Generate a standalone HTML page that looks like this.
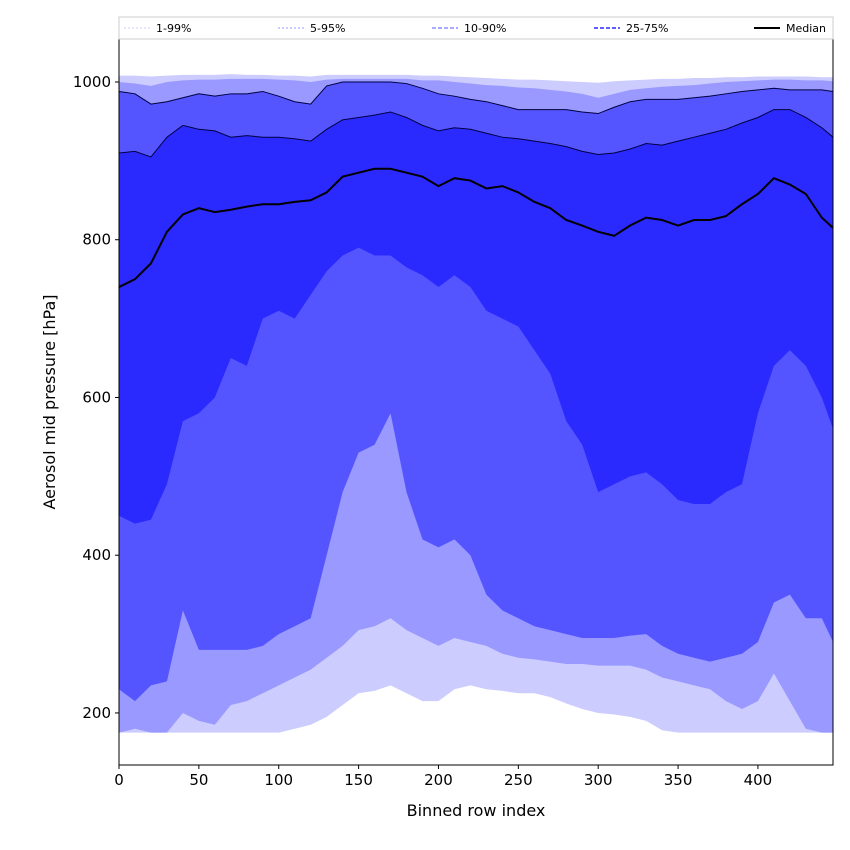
<!DOCTYPE html>
<html><head><meta charset="utf-8">
<style>
body{margin:0;background:#fff;}
svg{display:block;font-family:"DejaVu Sans","Liberation Sans",sans-serif;}
</style></head>
<body>
<svg id="chart" width="850" height="850"></svg>
<script>
const rows = [0,10,20,30,40,50,60,70,80,90,100,110,120,130,140,150,160,170,180,190,200,210,220,230,240,250,260,270,280,290,300,310,320,330,340,350,360,370,380,390,400,410,420,430,440,447];
const p1 = [175,175,175,175,175,175,175,175,175,175,175,180,185,195,210,225,228,235,225,215,215,230,235,230,228,225,225,220,212,205,200,198,195,190,178,175,175,175,175,175,175,175,175,175,175,175];
const p5 = [175,180,175,175,200,190,185,210,215,225,235,245,255,270,285,305,310,320,305,295,285,295,290,285,275,270,268,265,262,262,260,260,260,255,245,240,235,230,215,205,215,250,215,180,175,175];
const p10 = [230,215,235,240,330,280,280,280,280,285,300,310,320,400,480,530,540,580,480,420,410,420,400,350,330,320,310,305,300,295,295,295,298,300,285,275,270,265,270,275,290,340,350,320,320,290];
const p25 = [450,440,445,490,570,580,600,650,640,700,710,700,730,760,780,790,780,780,765,755,740,755,740,710,700,690,660,630,570,540,480,490,500,505,490,470,465,465,480,490,580,640,660,640,600,560];
const p50 = [740,750,770,810,832,840,835,838,842,845,845,848,850,860,880,885,890,890,885,880,868,878,875,865,868,860,848,840,825,818,810,805,818,828,825,818,825,825,830,845,858,878,870,858,828,815];
const p75 = [910,912,905,930,945,940,938,930,932,930,930,928,925,940,952,955,958,962,955,945,938,942,940,935,930,928,925,922,918,912,908,910,915,922,920,925,930,935,940,948,955,965,965,955,942,930];
const p90 = [988,985,972,975,980,985,982,985,985,988,982,975,972,995,1000,1000,1000,1000,998,992,985,982,978,975,970,965,965,965,965,962,960,968,975,978,978,978,980,982,985,988,990,992,990,990,990,988];
const p95 = [1000,998,995,1000,1002,1003,1003,1004,1004,1004,1003,1002,1000,1003,1004,1004,1004,1004,1004,1002,1002,1000,998,996,995,993,992,990,988,985,980,985,990,992,994,995,996,998,1000,1001,1002,1003,1003,1002,1002,1001];
const p99 = [1008,1008,1007,1008,1009,1009,1009,1010,1009,1009,1008,1008,1007,1009,1009,1009,1009,1009,1009,1008,1008,1007,1006,1005,1004,1003,1003,1002,1001,1000,999,1001,1002,1003,1004,1004,1005,1005,1006,1006,1007,1007,1007,1007,1006,1006];
const xTicks = [0,50,100,150,200,250,300,350,400];
const yTicks = [200,400,600,800,1000];

const L=119,R=833,T=39,B=765;
const xMin=0,xMax=447,yMin=134,yMax=1054.5;
const X=v=>L+(v-xMin)/(xMax-xMin)*(R-L);
const Y=v=>B-(v-yMin)/(yMax-yMin)*(B-T);
const NS="http://www.w3.org/2000/svg";
const svg=document.getElementById('chart');
function mk(tag,attrs,parent){const e=document.createElementNS(NS,tag);for(const k in attrs)e.setAttribute(k,attrs[k]);(parent||svg).appendChild(e);return e;}

function band(lo,hi,color,name){
  let d='M'+rows.map((r,i)=>X(r)+','+Y(hi[i])).join('L');
  for(let i=rows.length-1;i>=0;i--) d+='L'+X(rows[i])+','+Y(lo[i]);
  const p=mk('path',{d:d+'Z',fill:color,stroke:'none'});
  
  
}
function line(arr,color,w,dash,name){
  const p=mk('path',{d:'M'+rows.map((r,i)=>X(r)+','+Y(arr[i])).join('L'),fill:'none',stroke:color,'stroke-width':w});
  if(dash)p.setAttribute('stroke-dasharray',dash);
  
  
}
band(p1,p99,'#ccccff','band-1-99');
band(p5,p95,'#9999ff','band-5-95');
band(p10,p90,'#5555ff','band-10-90');
band(p25,p75,'#2a2aff','band-25-75');
line(p90,'#000040',1,null,'line-p90');
line(p75,'#000040',1,null,'line-p75');
line(p50,'#000000',2,null,'median-line');

const fr=mk('rect',{x:L,y:T,width:R-L,height:B-T,fill:'none',stroke:'#000','stroke-width':1});


xTicks.forEach(t=>{
  mk('line',{x1:X(t),x2:X(t),y1:B,y2:B+4,stroke:'#000'});
  const tx=mk('text',{x:X(t),y:B+20,'text-anchor':'middle','font-size':15});
  tx.textContent=t;
  
  
});
yTicks.forEach(t=>{
  mk('line',{x1:L-4,x2:L,y1:Y(t),y2:Y(t),stroke:'#000'});
  const tx=mk('text',{x:L-8,y:Y(t)+5,'text-anchor':'end','font-size':15});
  tx.textContent=t;
  
  
});
const xt=mk('text',{x:(L+R)/2,y:816,'text-anchor':'middle','font-size':16});
xt.textContent='Binned row index';


const yt=mk('text',{x:0,y:0,'text-anchor':'middle','font-size':16,transform:'translate(55,402) rotate(-90)'});
yt.textContent='Aerosol mid pressure [hPa]';



const lg=mk('g',{});


mk('rect',{x:119,y:17,width:714,height:22,fill:'#fff',stroke:'#ccc'},lg);
const leg=[['1-99%','#ccccff',1,'2,2',124],['5-95%','#9999ff',1,'2,2',278],['10-90%','#5555ff',1,'4,2',432],['25-75%','#2a2aff',1.5,'4,2',594],['Median','#000',2,null,754]];
leg.forEach(e=>{
  const ln=mk('line',{x1:e[4],x2:e[4]+26,y1:28,y2:28,stroke:e[1],'stroke-width':e[2]},lg);
  if(e[3])ln.setAttribute('stroke-dasharray',e[3]);
  const t=mk('text',{x:e[4]+32,y:32,'font-size':11},lg);
  t.textContent=e[0];
  
  
});
</script>
</body></html>
